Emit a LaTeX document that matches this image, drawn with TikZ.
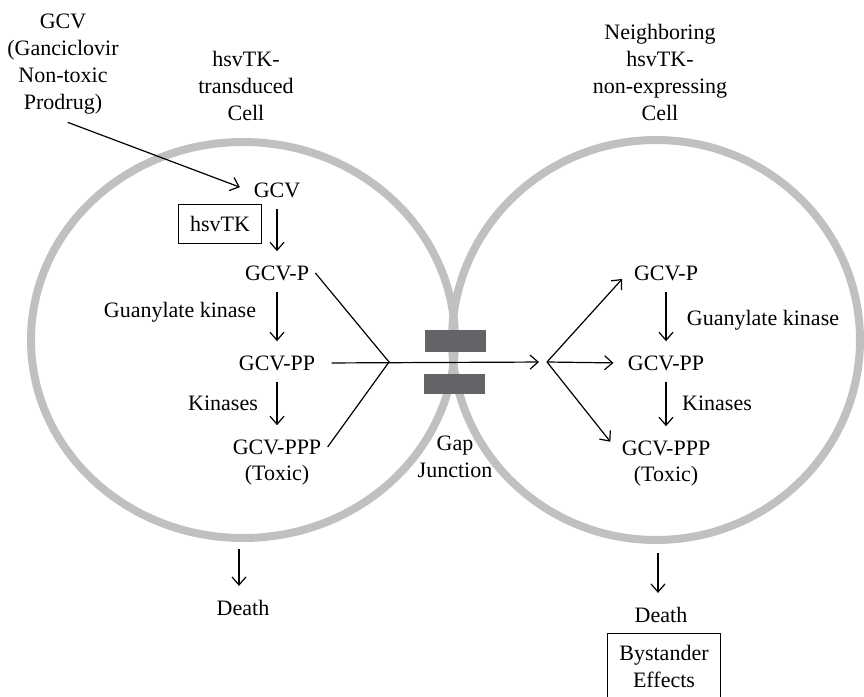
\documentclass[tikz,border=0pt]{standalone}
\usepackage{fontspec}
\setmainfont{Liberation Serif}
\usetikzlibrary{arrows.meta}
\definecolor{ringgray}{RGB}{191,192,194}
\definecolor{gapgray}{RGB}{99,100,104}
\tikzset{
	lbl/.style={align=center,font=\fontsize{11}{13.5}\selectfont,inner sep=3pt},
	box/.style={lbl,draw,line width=0.6pt,minimum width=41.5pt,minimum height=19.5pt},
	arr/.style={-{Straight Barb[length=4pt,width=7pt]},line width=0.6pt,shorten >=4pt,shorten <=2.5pt},
	ln/.style={line width=0.6pt},
	ring/.style={draw=ringgray,line width=4pt},
	gap/.style={fill=gapgray}
}
\begin{document}
\begin{tikzpicture}[x=0.5pt,y=-0.5pt]
	\useasboundingbox (0,0) rectangle (864,697);
	\draw [ring] (243,340) ellipse [x radius=106pt,y radius=99pt];
	\draw [ring] (656,340) ellipse [x radius=102pt,y radius=100pt];
	\fill [gap] (425,330) rectangle (486,352);
	\fill [gap] (424,374) rectangle (485,394);

	\node [lbl] (gcvtop) at (63,64) {GCV\\(Ganciclovir\\Non-toxic\\Prodrug)};
	\node [lbl] (lcell) at (246,86) {hsvTK-\\transduced\\Cell};
	\node [lbl] (rcell) at (660,72) {Neighboring\\hsvTK-\\non-expressing\\Cell};
	\node [lbl] (lv) at (277,190) {GCV};
	\node [box] (tk) at (220,224) {hsvTK};
	\node [lbl] (lp) at (277,273) {GCV-P};
	\node [lbl] (lgk) at (180,312) {Guanylate kinase};
	\node [lbl] (lpp) at (277,363) {GCV-PP};
	\node [lbl] (lk) at (223,403) {Kinases};
	\node [lbl] (lppp) at (277,447) {GCV-PPP};
	\node [lbl] (ltox) at (277,475) {(Toxic)};
	\node [lbl] (ldeath) at (243,608) {Death};
	\node [lbl] (gj) at (455,457) {Gap\\Junction};
	\node [lbl] (rp) at (666,273) {GCV-P};
	\node [lbl] (rgk) at (763,320) {Guanylate kinase};
	\node [lbl] (rpp) at (666,363) {GCV-PP};
	\node [lbl] (rk) at (717,403) {Kinases};
	\node [lbl] (rppp) at (666,448) {GCV-PPP};
	\node [lbl] (rtox) at (666,476) {(Toxic)};
	\node [lbl] (rdeath) at (661,615) {Death};
	\node [box,inner xsep=6pt,inner ysep=5.5pt] (bys) at (664,666) {Bystander\\Effects};

	\coordinate (jl) at (389,362);
	\coordinate (jr) at (547,362);
	\coordinate (ld0) at (239,549);
	\coordinate (rd0) at (658,553);

	\draw [arr] (gcvtop.south) -- (lv.west);
	\draw [arr] (lv) -- (lp);
	\draw [arr] (lp) -- (lpp);
	\draw [arr] (lpp) -- (lppp);
	\draw [ln] (lp.east) -- (jl) -- (lppp.east);
	\draw [arr,shorten <=5pt] (lpp.east) -- (jr);
	\draw [arr,shorten <=0pt] (jr) -- (rp.west);
	\draw [arr,shorten <=0pt] (jr) -- (rpp.west);
	\draw [arr,shorten <=0pt] (jr) -- (rppp.west);
	\draw [arr] (rp) -- (rpp);
	\draw [arr] (rpp) -- (rppp);
	\draw [arr,shorten <=0pt] (ld0) -- (ld0 |- ldeath.north);
	\draw [arr,shorten <=0pt] (rd0) -- (rd0 |- rdeath.north);
\end{tikzpicture}
\end{document}
